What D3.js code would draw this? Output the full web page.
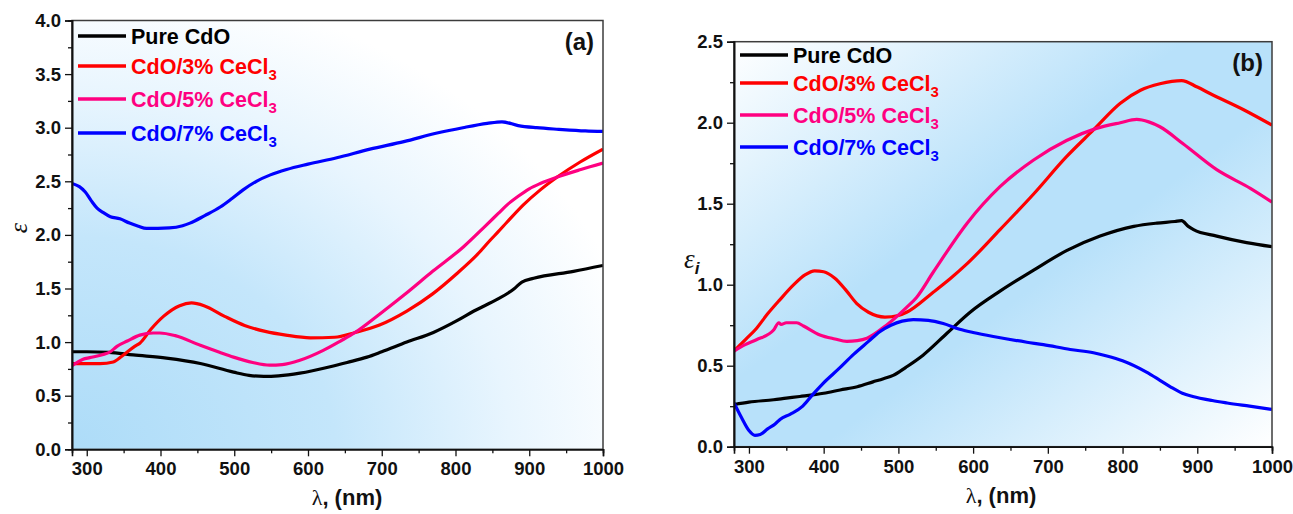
<!DOCTYPE html>
<html>
<head>
<meta charset="utf-8">
<script src="https://cdn.jsdelivr.net/npm/d3@7"></script>
<style>
  body { margin: 0; background: #fff; }
  svg { display: block; }
  text { font-family: Arial, "Liberation Sans", sans-serif; }
</style>
</head>
<body>
<svg id="chart" width="1293" height="514"></svg>
<script>
// ---- data -------------------------------------------------------------
const seriesNames = ["Pure CdO", "CdO/3% CeCl", "CdO/5% CeCl", "CdO/7% CeCl"];
const seriesSubs  = ["", "3", "3", "3"];
const seriesColors = ["#000000", "#ff0000", "#ff0080", "#0000ff"];

const xTicks = [300, 400, 500, 600, 700, 800, 900, 1000];
const xMinorTicks = [350, 450, 550, 650, 750, 850, 950];
const yTicksA = [0.0, 0.5, 1.0, 1.5, 2.0, 2.5, 3.0, 3.5, 4.0];
const yTicksB = [0.0, 0.5, 1.0, 1.5, 2.0, 2.5];

// (a) real part, epsilon
const lamA0 = [280, 300, 330, 363, 408, 454, 499, 520, 540, 560, 589, 630, 653, 680, 700, 734, 770, 802, 825, 857, 872, 880, 890, 906, 960, 1000];
const epsA0 = [0.91, 0.91, 0.905, 0.88, 0.85, 0.80, 0.72, 0.69, 0.68, 0.685, 0.71, 0.77, 0.81, 0.86, 0.91, 1.00, 1.09, 1.20, 1.29, 1.40, 1.46, 1.50, 1.56, 1.595, 1.66, 1.715];

const lamA3 = [280, 300, 318, 336, 348, 365, 372, 387, 404, 426, 442, 459, 487, 514, 542, 570, 603, 636, 664, 697, 734, 769, 802, 830, 847, 858, 870, 892, 915, 938, 969, 1000];
const epsA3 = [0.80, 0.80, 0.80, 0.815, 0.87, 0.96, 0.99, 1.12, 1.24, 1.34, 1.365, 1.34, 1.24, 1.155, 1.10, 1.065, 1.04, 1.045, 1.09, 1.16, 1.29, 1.45, 1.64, 1.82, 1.95, 2.03, 2.12, 2.28, 2.42, 2.54, 2.68, 2.80];

const lamA5 = [280, 295, 304, 320, 332, 341, 355, 372, 390, 399, 420, 454, 480, 499, 525, 548, 565, 589, 620, 644, 664, 697, 734, 769, 811, 840, 858, 870, 885, 900, 915, 938, 970, 1000];
const epsA5 = [0.78, 0.84, 0.855, 0.88, 0.91, 0.96, 1.01, 1.065, 1.085, 1.085, 1.06, 0.97, 0.905, 0.86, 0.81, 0.785, 0.79, 0.83, 0.92, 1.01, 1.09, 1.26, 1.46, 1.66, 1.89, 2.08, 2.20, 2.28, 2.36, 2.43, 2.48, 2.54, 2.61, 2.67];

const lamA7 = [280, 290, 298, 306, 314, 322, 332, 345, 358, 370, 381, 412, 430, 440, 460, 481, 497, 512, 530, 549, 571, 600, 639, 684, 730, 775, 810, 843, 863, 885, 910, 940, 976, 1000];
const epsA7 = [2.48, 2.45, 2.40, 2.32, 2.25, 2.21, 2.17, 2.15, 2.11, 2.08, 2.06, 2.065, 2.085, 2.11, 2.18, 2.26, 2.34, 2.42, 2.50, 2.56, 2.61, 2.66, 2.72, 2.80, 2.87, 2.95, 3.00, 3.04, 3.055, 3.02, 3.00, 2.985, 2.97, 2.965];

// (b) imaginary part, epsilon_i
const lamB0 = [280, 300, 333, 350, 368, 400, 422, 445, 466, 480, 493, 510, 533, 565, 596, 636, 681, 725, 770, 815, 846, 870, 879, 888, 895, 926, 966, 1000];
const epsB0 = [0.26, 0.275, 0.29, 0.30, 0.31, 0.33, 0.35, 0.37, 0.40, 0.42, 0.44, 0.49, 0.565, 0.70, 0.83, 0.96, 1.09, 1.21, 1.30, 1.36, 1.38, 1.39, 1.395, 1.36, 1.34, 1.30, 1.26, 1.235];

const lamB3 = [280, 295, 310, 325, 341, 360, 375, 388, 400, 415, 430, 444, 460, 482, 500, 511, 547, 570, 592, 636, 681, 725, 761, 797, 824, 850, 879, 900, 917, 962, 1000];
const epsB3 = [0.59, 0.66, 0.73, 0.82, 0.905, 1.00, 1.06, 1.085, 1.08, 1.04, 0.965, 0.885, 0.83, 0.80, 0.81, 0.83, 0.955, 1.04, 1.13, 1.34, 1.56, 1.79, 1.955, 2.12, 2.20, 2.24, 2.26, 2.22, 2.18, 2.08, 1.985];

const lamB5 = [280, 295, 310, 333, 340, 343, 350, 364, 373, 395, 415, 431, 445, 458, 484, 511, 524, 547, 592, 636, 681, 725, 765, 797, 819, 835, 850, 881, 926, 971, 1000];
const epsB5 = [0.59, 0.63, 0.66, 0.72, 0.765, 0.755, 0.765, 0.765, 0.745, 0.69, 0.665, 0.65, 0.655, 0.67, 0.75, 0.86, 0.92, 1.08, 1.38, 1.605, 1.77, 1.89, 1.965, 2.00, 2.02, 2.005, 1.975, 1.87, 1.71, 1.595, 1.51];

const lamB7 = [280, 290, 300, 308, 315, 325, 335, 342, 355, 372, 385, 399, 420, 440, 460, 475, 490, 505, 520, 540, 560, 582, 600, 627, 672, 694, 730, 761, 779, 800, 832, 850, 864, 880, 894, 920, 940, 970, 1000];
const epsB7 = [0.27, 0.18, 0.10, 0.07, 0.075, 0.11, 0.14, 0.17, 0.20, 0.25, 0.32, 0.39, 0.48, 0.57, 0.65, 0.71, 0.75, 0.775, 0.785, 0.78, 0.76, 0.725, 0.705, 0.68, 0.645, 0.63, 0.60, 0.58, 0.56, 0.53, 0.46, 0.41, 0.37, 0.33, 0.31, 0.285, 0.27, 0.25, 0.23];

// ---- drawing ----------------------------------------------------------
const svg = d3.select("#chart");
const defs = svg.append("defs");

// panel (a): blue glow in lower-left corner fading out
const gA = defs.append("radialGradient").attr("id", "bgA")
  .attr("cx", 0).attr("cy", 1).attr("r", 1.1).attr("fx", 0).attr("fy", 1);
[[0, "#addcf8"], [0.45, "#c4e6fb"], [0.75, "#e8f5fe"], [1, "#ffffff"]]
  .forEach(([o, c]) => gA.append("stop").attr("offset", o).attr("stop-color", c));

// panel (b): diagonal band, white corners top-left and bottom-right
const gB = defs.append("linearGradient").attr("id", "bgB")
  .attr("x1", 0).attr("y1", 0).attr("x2", 1).attr("y2", 1);
[[0, "#ffffff"], [0.42, "#b8e1fa"], [0.58, "#b8e1fa"], [1, "#ffffff"]]
  .forEach(([o, c]) => gB.append("stop").attr("offset", o).attr("stop-color", c));

function drawPanel(cfg) {
  const x = d3.scaleLinear().domain([280, 1000]).range([cfg.left, cfg.right]);
  const y = d3.scaleLinear().domain(cfg.yDomain).range([cfg.bottom, cfg.top]);
  const g = svg.append("g");

  g.append("rect")
    .attr("x", cfg.left).attr("y", cfg.top)
    .attr("width", cfg.right - cfg.left).attr("height", cfg.bottom - cfg.top)
    .attr("fill", `url(#${cfg.bg})`);

  const clipId = "clip" + cfg.id;
  defs.append("clipPath").attr("id", clipId).append("rect")
    .attr("x", cfg.left).attr("y", cfg.top)
    .attr("width", cfg.right - cfg.left).attr("height", cfg.bottom - cfg.top);

  const line = d3.line().x(d => x(d[0])).y(d => y(d[1])).curve(d3.curveMonotoneX);
  const lines = g.append("g").attr("clip-path", `url(#${clipId})`);
  cfg.series.forEach((s, i) => {
    const pts = s.lam.map((l, k) => [l, s.val[k]]);
    lines.append("path").datum(pts)
      .attr("d", line)
      .attr("fill", "none")
      .attr("stroke", seriesColors[i])
      .attr("stroke-width", 3.2)
      .attr("stroke-linejoin", "round");
  });

  // frame
  g.append("rect")
    .attr("x", cfg.left).attr("y", cfg.top)
    .attr("width", cfg.right - cfg.left).attr("height", cfg.bottom - cfg.top)
    .attr("fill", "none").attr("stroke", "#3c3c3c").attr("stroke-width", 1.5);

  // axes
  g.append("g").attr("transform", `translate(0,${cfg.bottom})`)
    .call(d3.axisBottom(x).tickValues(xTicks).tickSize(7).tickPadding(6).tickFormat(d3.format("d")));
  g.append("g").attr("transform", `translate(0,${cfg.bottom})`)
    .call(d3.axisBottom(x).tickValues(xMinorTicks).tickSize(4).tickFormat(""));
  g.append("g").attr("transform", `translate(${cfg.left},0)`)
    .call(d3.axisLeft(y).tickValues(cfg.yTicks).tickSize(7).tickPadding(4).tickFormat(d3.format(".1f")));
  const yMinor = cfg.yTicks.slice(0, -1).map(v => v + 0.25);
  g.append("g").attr("transform", `translate(${cfg.left},0)`)
    .call(d3.axisLeft(y).tickValues(yMinor).tickSize(4).tickFormat(""));

  g.selectAll(".domain").attr("stroke", "#111").attr("stroke-width", 1.6);
  g.selectAll(".tick line").attr("stroke", "#111").attr("stroke-width", 1.3);
  g.selectAll(".tick text")
    .attr("font-size", 18.5).attr("font-weight", "bold").attr("fill", "#111")
    .style("font-family", "Arial, 'Liberation Sans', sans-serif");

  // legend
  cfg.legendRows.forEach((ly, i) => {
    g.append("line")
      .attr("x1", cfg.legendX).attr("x2", cfg.legendX + 48)
      .attr("y1", ly).attr("y2", ly)
      .attr("stroke", seriesColors[i]).attr("stroke-width", 3.5);
    const t = g.append("text")
      .attr("x", cfg.legendX + 53).attr("y", ly + 8)
      .attr("font-size", 21.5).attr("font-weight", "bold")
      .attr("fill", seriesColors[i])
      .text(seriesNames[i]);
    if (seriesSubs[i]) {
      t.append("tspan").attr("font-size", 15).attr("dy", 6).text(seriesSubs[i]);
    }
  });

  // panel tag
  g.append("text")
    .attr("x", cfg.tagX).attr("y", cfg.tagY)
    .attr("text-anchor", "end")
    .attr("font-size", 24).attr("font-weight", "bold").attr("fill", "#111")
    .text(cfg.tag);

  // x-axis title
  const xt = g.append("text")
    .attr("x", cfg.xTitleX).attr("y", cfg.bottom + 56)
    .attr("text-anchor", "middle").attr("font-size", 22).attr("fill", "#111");
  xt.append("tspan").style("font-family", "'Liberation Serif', 'Times New Roman', serif").text("λ");
  xt.append("tspan").attr("font-weight", "bold").text(", (nm)");

  return { x, y, g };
}

drawPanel({
  id: "A", left: 72, right: 603, top: 20.5, bottom: 449.3,
  yDomain: [0, 4], yTicks: yTicksA, bg: "bgA",
  series: [
    { lam: lamA0, val: epsA0 }, { lam: lamA3, val: epsA3 },
    { lam: lamA5, val: epsA5 }, { lam: lamA7, val: epsA7 }
  ],
  legendX: 78, legendRows: [36, 66, 99, 133],
  tag: "(a)", tagX: 594, tagY: 50, xTitleX: 347
});

drawPanel({
  id: "B", left: 734, right: 1272, top: 41.7, bottom: 446.7,
  yDomain: [0, 2.5], yTicks: yTicksB, bg: "bgB",
  series: [
    { lam: lamB0, val: epsB0 }, { lam: lamB3, val: epsB3 },
    { lam: lamB5, val: epsB5 }, { lam: lamB7, val: epsB7 }
  ],
  legendX: 740, legendRows: [55, 83, 115, 147],
  tag: "(b)", tagX: 1263, tagY: 71, xTitleX: 1001
});

// y-axis titles
svg.append("text")
  .attr("transform", "translate(27,228) rotate(-90)")
  .attr("text-anchor", "middle")
  .attr("font-size", 26).attr("font-style", "italic").attr("fill", "#111")
  .style("font-family", "'Liberation Serif', 'Times New Roman', serif")
  .text("ε");

const yb = svg.append("text")
  .attr("x", 684).attr("y", 268)
  .attr("font-size", 27).attr("font-style", "italic").attr("fill", "#111")
  .style("font-family", "'Liberation Serif', 'Times New Roman', serif");
yb.append("tspan").text("ε");
yb.append("tspan").attr("font-size", 17).attr("font-weight", "bold").attr("dy", 6)
  .style("font-family", "Arial, 'Liberation Sans', sans-serif").text("i");
</script>
</body>
</html>
